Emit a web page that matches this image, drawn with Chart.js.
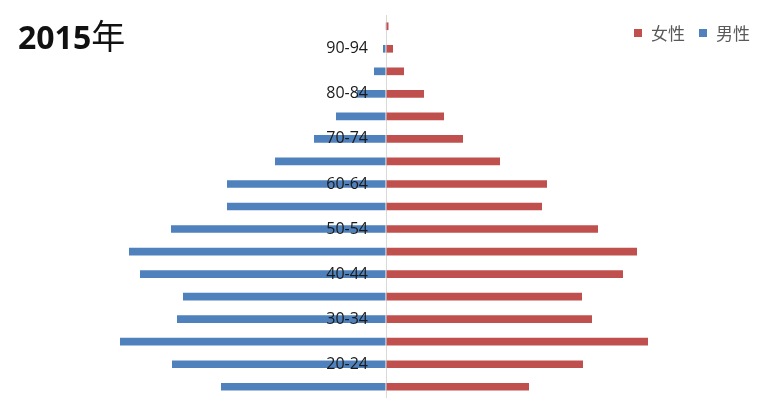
<!DOCTYPE html>
<html>
<head>
<meta charset="utf-8">
<title>2015年 人口金字塔</title>
<script src="https://cdn.jsdelivr.net/npm/chart.js@4.4.1/dist/chart.umd.min.js"></script>
<style>
  body { margin: 0; background: #fff; }
  #wrap { position: relative; width: 760px; height: 400px; }
  #title {
    position: absolute; left: 18px; top: 10px;
    line-height: 1; white-space: nowrap; color: #111;
  }
  #title .yr { font: bold 32px "Open Sans", sans-serif; }
  #title .cjk { font: 34px "Noto Sans CJK SC", sans-serif; }
  #legend {
    position: absolute; right: 10px; top: 24px;
    display: flex; gap: 14px;
    font: 17px/17px "Noto Sans CJK SC", sans-serif; color: #595959;
  }
  #legend .item { display: flex; align-items: center; }
  #legend .swatch { width: 8px; height: 8px; margin-right: 9px; }
</style>
</head>
<body>
<div id="wrap">
  <canvas id="pyramid"></canvas>
  <div id="title"><span class="yr">2015</span><span class="cjk">年</span></div>
  <div id="legend"></div>
</div>
<script>
// age groups, youngest first (drawn bottom to top)
const ageGroups = ['15-19', '20-24', '25-29', '30-34', '35-39', '40-44', '45-49', '50-54',
  '55-59', '60-64', '65-69', '70-74', '75-79', '80-84', '85-89', '90-94', '95-99'];

// values (same relative units for both)
const maleValues = [165, 214, 266, 209, 203, 246, 257, 215, 159, 159, 111, 72, 50, 29, 12, 3, 0.3];
const femaleValues = [143, 197, 262, 206, 196, 237, 251, 212, 156, 161, 114, 77, 58, 38, 18, 7, 2.5];

const femaleLabel = '女性';
const maleLabel = '男性';

const RED = '#c0504d';
const BLUE = '#4f81bd';

// legend as html so it can sit inside the plot area, top right
const htmlLegend = {
  id: 'htmlLegend',
  afterUpdate(chart) {
    const box = document.getElementById('legend');
    box.innerHTML = '';
    const items = Chart.defaults.plugins.legend.labels.generateLabels(chart);
    items.forEach(item => {
      const el = document.createElement('span');
      el.className = 'item';
      const sw = document.createElement('span');
      sw.className = 'swatch';
      sw.style.background = item.fillStyle;
      el.appendChild(sw);
      el.appendChild(document.createTextNode(item.text));
      box.appendChild(el);
    });
  }
};

const ctx = document.getElementById('pyramid').getContext('2d');

new Chart(ctx, {
  type: 'bar',
  data: {
    labels: ageGroups,
    datasets: [{
      label: femaleLabel,
      data: femaleValues,
      backgroundColor: RED,
      barPercentage: 0.34,
      categoryPercentage: 1
    }, {
      label: maleLabel,
      data: maleValues.map(v => -v),
      backgroundColor: BLUE,
      barPercentage: 0.34,
      categoryPercentage: 1
    }]
  },
  plugins: [htmlLegend],
  options: {
    indexAxis: 'y',
    responsive: true,
    maintainAspectRatio: false,
    animation: false,
    layout: {
      autoPadding: false,
      padding: { left: 86, right: 0, top: 15, bottom: 2 }
    },
    plugins: {
      legend: { display: false },
      tooltip: {
        callbacks: {
          label: item => `${item.dataset.label}: ${Math.abs(item.raw)}`
        }
      }
    },
    scales: {
      x: {
        stacked: true,
        min: -300,
        max: 374,
        border: { display: false },
        ticks: { display: false, stepSize: 100 },
        grid: {
          drawTicks: false,
          lineWidth: 1,
          color: c => (c.tick && c.tick.value === 0 ? '#d9d9d9' : 'rgba(0,0,0,0)')
        },
        afterFit: scale => { scale.height = 0; }
      },
      y: {
        stacked: true,
        reverse: true,
        position: { x: -18 },
        border: { display: false },
        grid: { display: false },
        ticks: {
          z: 1,
          autoSkip: false,
          color: '#1a1a1a',
          font: { family: '"Open Sans", sans-serif', size: 16 },
          callback: function (value, index) {
            return index % 2 === 1 ? this.getLabelForValue(value) : '';
          }
        },
        afterFit: scale => {
          scale.width = 0;
          scale.paddingTop = 0;
          scale.paddingBottom = 0;
        }
      }
    }
  }
});
</script>
</body>
</html>
